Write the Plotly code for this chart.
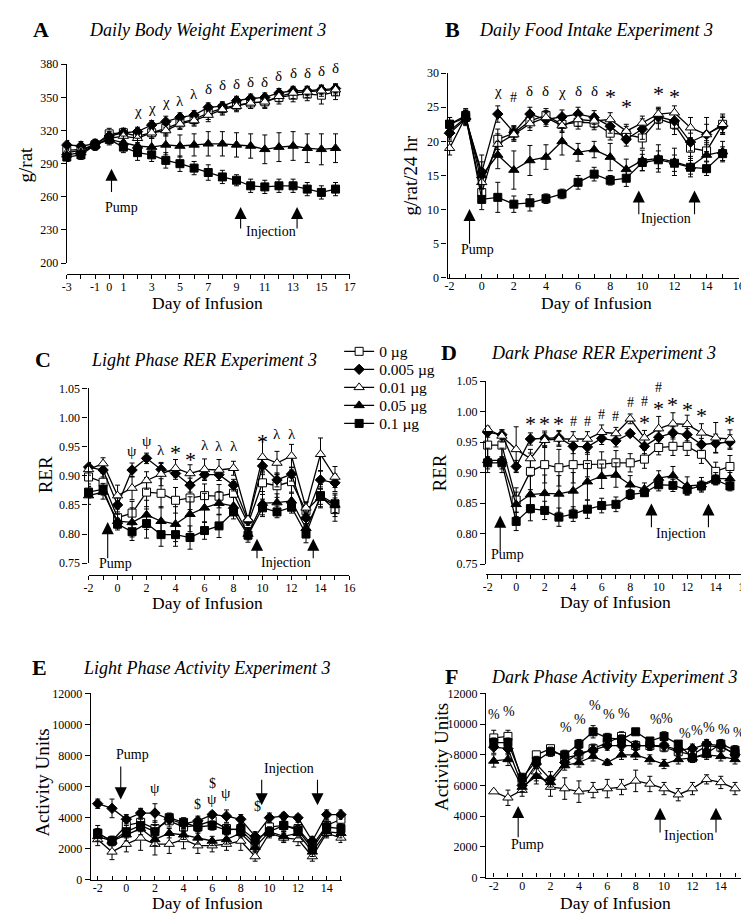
import plotly.graph_objects as go

W, H = 749, 913
SERIF = "Liberation Serif"

doses = ["0 µg", "0.005 µg", "0.01 µg", "0.05 µg", "0.1 µg"]
days_A = list(range(-3, 17))
days = list(range(-2, 16))

# ---- Panel A: Daily body weight (g/rat)
bw_0 = [302, 303, 307, 317, 318, 315, 318, 322, 327, 330, 336, 340, 343, 345, 346, 350, 352, 353, 352, 355]
bw_1 = [307, 306, 308, 315, 318, 319, 325, 328, 332, 334, 341, 342, 347, 349, 350, 354, 356, 356, 357, 358]
bw_2 = [300, 302, 307, 313, 315, 313, 318, 320, 326, 329, 334, 339, 342, 345, 346, 351, 354, 355, 356, 357]
bw_3 = [298, 300, 307, 312, 309, 306, 305, 307, 306, 307, 308, 308, 307, 306, 303, 305, 306, 304, 303, 304]
bw_4 = [296, 298, 307, 312, 305, 300, 298, 293, 290, 286, 282, 278, 275, 270, 269, 270, 270, 267, 264, 267]
bw_e0 = [5, 4, 4, 5, 4, 4, 5, 5, 5, 5, 6, 5, 5, 5, 6, 6, 6, 6, 8, 7]
bw_e1 = [4, 4, 4, 4, 4, 4, 4, 5, 4, 4, 4, 4, 4, 4, 4, 4, 4, 4, 4, 4]
bw_e2 = [4, 4, 4, 4, 4, 4, 5, 5, 5, 5, 6, 5, 5, 5, 5, 5, 5, 5, 5, 5]
bw_e3 = [6, 6, 5, 5, 6, 7, 8, 9, 10, 10, 11, 11, 11, 11, 13, 13, 13, 13, 14, 13]
bw_e4 = [4, 4, 4, 4, 5, 7, 6, 7, 7, 6, 7, 6, 5, 6, 6, 6, 6, 6, 6, 6]

# ---- Panel B: Daily food intake (g/rat/24 hr)
fi_0 = [22.5, 23.5, 12.5, 20.3, 21.2, 23.0, 23.8, 22.5, 22.8, 22.7, 21.2, 21.0, 20.5, 23.3, 22.5, 19.0, 18.6, 22.5]
fi_1 = [21.2, 23.3, 15.5, 24.0, 21.3, 24.0, 23.2, 23.6, 24.0, 23.5, 22.2, 20.3, 21.8, 23.6, 23.0, 19.9, 21.0, 22.3]
fi_2 = [19.0, 23.6, 14.0, 19.6, 21.0, 22.6, 23.5, 22.3, 23.2, 23.0, 23.2, 21.5, 22.7, 24.0, 24.2, 22.0, 21.0, 22.5]
fi_3 = [21.5, 23.5, 15.0, 18.0, 15.8, 17.2, 17.7, 20.0, 18.4, 18.8, 17.7, 15.9, 17.2, 17.5, 17.0, 16.3, 18.0, 18.5]
fi_4 = [22.5, 23.8, 11.5, 11.8, 10.8, 11.0, 11.6, 12.3, 14.0, 15.2, 14.3, 14.6, 16.9, 17.3, 16.8, 16.2, 16.0, 18.2]
fi_e0 = [1, 1, 1.5, 1.5, 1, 1, 1, 1, 1, 1, 1, 1.2, 1.5, 1.5, 1.5, 1.5, 1.5, 1.2]
fi_e1 = [1, 1, 1.5, 1.2, 1, 1, 1, 1, 1, 1, 1, 1, 1.5, 1, 1.2, 1.3, 1.5, 1.2]
fi_e2 = [1, 1, 2, 1.5, 1, 1, 1, 1, 1, 1, 1, 1, 1, 1, 1, 1.5, 2.5, 1.5]
fi_e3 = [1, 1, 3, 2, 2.8, 2.2, 1.8, 2, 1.3, 1.2, 2, 1.5, 1.5, 2, 2, 1.5, 1.8, 1.5]
fi_e4 = [1, 1, 1.5, 2.2, 1.2, 1.2, 0.7, 0.7, 1, 1, 0.7, 1.2, 1.2, 1.3, 1.2, 1, 1, 1]

# ---- Panel C: Light phase RER
lr_0 = [0.898, 0.889, 0.828, 0.836, 0.872, 0.870, 0.858, 0.862, 0.866, 0.865, 0.870, 0.818, 0.888, 0.883, 0.890, 0.840, 0.865, 0.842]
lr_1 = [0.915, 0.910, 0.850, 0.910, 0.930, 0.911, 0.904, 0.884, 0.902, 0.902, 0.884, 0.823, 0.917, 0.893, 0.903, 0.828, 0.893, 0.888]
lr_2 = [0.911, 0.921, 0.866, 0.879, 0.892, 0.903, 0.913, 0.904, 0.911, 0.910, 0.913, 0.825, 0.932, 0.922, 0.934, 0.845, 0.937, 0.898]
lr_3 = [0.866, 0.872, 0.822, 0.820, 0.833, 0.822, 0.817, 0.834, 0.845, 0.853, 0.848, 0.800, 0.853, 0.854, 0.857, 0.810, 0.862, 0.850]
lr_4 = [0.872, 0.877, 0.817, 0.804, 0.818, 0.799, 0.799, 0.794, 0.806, 0.814, 0.838, 0.798, 0.845, 0.838, 0.846, 0.800, 0.866, 0.852]
lr_e0 = [0.012, 0.015, 0.015, 0.02, 0.025, 0.025, 0.022, 0.02, 0.02, 0.02, 0.02, 0.01, 0.02, 0.02, 0.02, 0.015, 0.02, 0.02]
lr_e1 = [0.008, 0.012, 0.012, 0.012, 0.009, 0.01, 0.01, 0.012, 0.01, 0.01, 0.01, 0.008, 0.012, 0.012, 0.012, 0.01, 0.015, 0.015]
lr_e2 = [0.01, 0.01, 0.018, 0.02, 0.015, 0.02, 0.015, 0.015, 0.018, 0.018, 0.012, 0.005, 0.03, 0.02, 0.02, 0.01, 0.028, 0.018]
lr_e3 = [0.015, 0.012, 0.012, 0.025, 0.025, 0.025, 0.03, 0.03, 0.025, 0.02, 0.015, 0.01, 0.02, 0.015, 0.015, 0.015, 0.015, 0.02]
lr_e4 = [0.01, 0.01, 0.01, 0.015, 0.025, 0.02, 0.02, 0.02, 0.015, 0.02, 0.012, 0.012, 0.015, 0.01, 0.01, 0.015, 0.015, 0.015]

# ---- Panel D: Dark phase RER
dr_0 = [0.945, 0.945, 0.855, 0.902, 0.913, 0.908, 0.913, 0.913, 0.914, 0.916, 0.916, 0.922, 0.941, 0.943, 0.943, 0.930, 0.902, 0.910]
dr_1 = [0.966, 0.962, 0.910, 0.955, 0.956, 0.957, 0.943, 0.942, 0.956, 0.952, 0.964, 0.943, 0.958, 0.965, 0.962, 0.946, 0.948, 0.950]
dr_2 = [0.971, 0.960, 0.938, 0.923, 0.953, 0.955, 0.955, 0.955, 0.966, 0.964, 0.988, 0.957, 0.972, 0.980, 0.979, 0.965, 0.957, 0.955]
dr_3 = [0.920, 0.920, 0.848, 0.864, 0.866, 0.865, 0.870, 0.885, 0.894, 0.896, 0.880, 0.873, 0.891, 0.895, 0.878, 0.880, 0.890, 0.890]
dr_4 = [0.916, 0.916, 0.820, 0.841, 0.838, 0.827, 0.832, 0.840, 0.846, 0.848, 0.864, 0.867, 0.880, 0.879, 0.872, 0.878, 0.888, 0.878]
dr_e0 = [0.02, 0.02, 0.02, 0.03, 0.03, 0.03, 0.03, 0.02, 0.02, 0.02, 0.015, 0.015, 0.012, 0.015, 0.015, 0.015, 0.015, 0.018]
dr_e1 = [0.008, 0.008, 0.01, 0.01, 0.012, 0.012, 0.012, 0.012, 0.01, 0.01, 0.005, 0.012, 0.01, 0.01, 0.01, 0.01, 0.015, 0.012]
dr_e2 = [0.005, 0.01, 0.037, 0.015, 0.012, 0.012, 0.012, 0.012, 0.012, 0.01, 0.008, 0.012, 0.02, 0.018, 0.015, 0.015, 0.025, 0.015]
dr_e3 = [0.02, 0.02, 0.02, 0.03, 0.03, 0.03, 0.03, 0.03, 0.02, 0.02, 0.015, 0.01, 0.012, 0.015, 0.015, 0.012, 0.01, 0.01]
dr_e4 = [0.01, 0.01, 0.015, 0.02, 0.015, 0.015, 0.012, 0.015, 0.012, 0.012, 0.008, 0.006, 0.01, 0.01, 0.008, 0.008, 0.008, 0.008]

# ---- Panel E: Light phase activity
la_0 = [3000, 2500, 3500, 3700, 3300, 3800, 3400, 3500, 3800, 3300, 3200, 2300, 3400, 3500, 3300, 2200, 3500, 3900]
la_1 = [4900, 4600, 3900, 4300, 4300, 3900, 3600, 3800, 4200, 4100, 3900, 2800, 4000, 4100, 4000, 2500, 4200, 4200]
la_2 = [2600, 1800, 2300, 2700, 2300, 2300, 2600, 2200, 2200, 2300, 2500, 1500, 3000, 2700, 2600, 1500, 3000, 2700]
la_3 = [2800, 2500, 2900, 3300, 2600, 3000, 2900, 2700, 2500, 2600, 3000, 2100, 3100, 2800, 3000, 1800, 3100, 3000]
la_4 = [3000, 2500, 3100, 3500, 3100, 4000, 3700, 3400, 3500, 3200, 3300, 2600, 3100, 3500, 3200, 2000, 3400, 3300]
la_e0 = [500, 300, 500, 500, 500, 400, 300, 400, 400, 300, 400, 400, 400, 400, 400, 300, 300, 300]
la_e1 = [300, 600, 300, 300, 600, 300, 300, 300, 200, 400, 300, 300, 300, 200, 200, 300, 300, 300]
la_e2 = [400, 500, 500, 800, 700, 600, 600, 500, 400, 400, 600, 300, 300, 300, 400, 300, 300, 300]
la_e3 = [300, 300, 400, 400, 400, 300, 300, 400, 300, 300, 300, 300, 300, 300, 300, 300, 300, 300]
la_e4 = [300, 300, 400, 400, 400, 300, 300, 400, 300, 300, 300, 300, 300, 300, 300, 300, 300, 300]

# ---- Panel F: Dark phase activity
da_0 = [9100, 9200, 6300, 8000, 8400, 7800, 8000, 8400, 8800, 9200, 8600, 8600, 8500, 8200, 8000, 8600, 8500, 8100]
da_1 = [8500, 8400, 6000, 7400, 6400, 7500, 8100, 8300, 8600, 8600, 8600, 8600, 8600, 8300, 8400, 8700, 8600, 8000]
da_2 = [5600, 5200, 5700, 6900, 5900, 5800, 5600, 5700, 5800, 5900, 6300, 6100, 5800, 5400, 5800, 6400, 6200, 5800]
da_3 = [7600, 7700, 5900, 6600, 6200, 7300, 7500, 7900, 7500, 8000, 8000, 7700, 7400, 7700, 7800, 8000, 7900, 7700]
da_4 = [8800, 8800, 6500, 7600, 8200, 8000, 8700, 9500, 9100, 9000, 9500, 8900, 9200, 8700, 7800, 8100, 8700, 8300]
da_e0 = [500, 400, 300, 200, 200, 300, 300, 300, 300, 300, 200, 300, 300, 300, 300, 300, 300, 300]
da_e1 = [400, 400, 300, 300, 500, 300, 300, 300, 300, 300, 300, 300, 300, 300, 300, 300, 300, 300]
da_e2 = [100, 500, 400, 600, 600, 700, 700, 500, 600, 500, 700, 500, 400, 400, 400, 300, 400, 400]
da_e3 = [400, 400, 300, 500, 300, 300, 300, 300, 200, 300, 300, 300, 300, 300, 300, 300, 300, 300]
da_e4 = [300, 300, 300, 300, 300, 300, 300, 400, 300, 300, 200, 200, 300, 200, 300, 300, 300, 300]

# ---- significance symbols (day, value, symbol)
sig_A = [(2, 338, "χ"), (3, 340, "χ"), (4, 346, "χ"), (5, 347, "λ"), (6, 353, "λ"), (7, 358, "δ"),
         (8, 361.5, "δ"), (9, 362, "δ"), (10, 363.5, "δ"), (11, 363.5, "δ"), (12, 369.5, "δ"),
         (13, 372.5, "δ"), (14, 372.5, "δ"), (15, 374, "δ"), (16, 377, "δ")]
sig_B = [(1, 27.4, "χ"), (2, 26.4, "#"), (3, 27.4, "δ"), (4, 27.4, "δ"), (5, 27.2, "χ"), (6, 27.4, "δ"),
         (7, 27.4, "δ"), (8, 27.3, "*"), (9, 25.8, "*"), (11, 27.7, "*"), (12, 27.3, "*")]
sig_C = [(1, 0.942, "ψ"), (2, 0.959, "ψ"), (3, 0.945, "λ"), (4, 0.949, "*"), (5, 0.936, "*"), (6, 0.953, "λ"),
         (7, 0.951, "λ"), (8, 0.951, "λ"), (10, 0.967, "*"), (11, 0.971, "λ"), (12, 0.972, "λ")]
sig_D = [(1, 0.988, "*"), (2, 0.988, "*"), (3, 0.988, "*"), (4, 0.983, "#"), (5, 0.983, "#"), (6, 0.995, "#"),
         (7, 0.992, "#"), (8, 1.015, "#"), (9, 1.016, "#"), (9, 0.991, "*"), (10, 1.039, "#"), (10, 1.013, "*"),
         (11, 1.020, "*"), (12, 1.012, "*"), (13, 1.002, "*"), (15, 0.991, "*")]
sig_E = [(2, 5900, "ψ"), (5, 4850, "$"), (6, 6180, "$"), (6, 5200, "ψ"), (7, 5600, "ψ"), (9.2, 4750, "$")]
sig_F = [(-2, 10650, "%"), (-0.95, 10800, "%"), (3.1, 9800, "%"), (4.05, 10330, "%"), (5.1, 11190, "%"),
         (6.1, 10650, "%"), (7.2, 10700, "%"), (9.4, 10290, "%"), (10.2, 10370, "%"), (11.5, 9410, "%"),
         (12.3, 9580, "%"), (13.2, 9800, "%"), (14.2, 9630, "%"), (15.3, 9430, "%")]

# ---- event arrows (x, tip value, tail value), labels (x, value, text)
arr_A = [(0.16, 285.5, 263), (9.29, 250.8, 230), (13.28, 250.8, 230)]
lab_A = [(0.86, 250.8, "Pump"), (11.43, 228.5, "Injection")]
arr_B = [(-0.76, 10.1, 4.8), (9.78, 12.8, 9.1), (13.25, 12.8, 9.1)]
lab_B = [(-0.25, 4.2, "Pump"), (11.5, 8.7, "Injection")]
arr_C = [(-0.68, 0.8206, 0.7557), (9.62, 0.792, 0.7557), (13.5, 0.792, 0.7557)]
lab_C = [(-0.11, 0.750, "Pump"), (11.64, 0.751, "Injection")]
arr_D = [(-1.12, 0.8296, 0.7677), (9.49, 0.8495, 0.808), (13.49, 0.8495, 0.808)]
lab_D = [(-0.58, 0.765, "Pump"), (11.58, 0.801, "Injection")]
arr_E = [(-0.39, 5174, 7392), (9.46, 4794, 6547), (13.36, 4794, 6547)]
lab_E = [(0.46, 8089, "Pump"), (11.4, 7138, "Injection")]
arr_F = [(-0.28, 4663, 2524), (9.72, 4556, 2845), (13.66, 4556, 2845)]
lab_F = [(0.35, 2139, "Pump"), (11.76, 2738, "Injection")]


def fx(px):
    return px / W


def fy(py):
    return 1 - py / H


styles = [
    dict(symbol="square", color="white", size=8),
    dict(symbol="diamond", color="black", size=8),
    dict(symbol="triangle-up", color="white", size=9),
    dict(symbol="triangle-up", color="black", size=9),
    dict(symbol="square", color="black", size=8),
]
legend_rows = [342, 360.3, 378.6, 396.9, 415.2]

panels = [
    dict(key="A", x=days_A, ys=[bw_0, bw_1, bw_2, bw_3, bw_4], es=[bw_e0, bw_e1, bw_e2, bw_e3, bw_e4],
         xd=(54.6, 341.7), xr=(-3, 17), yd=(50, 252), yr=(200, 380), xline=263, xticks="outside",
         ytv=[200, 230, 260, 290, 320, 350, 380], ytt=None,
         xminor=list(range(-3, 18)), xlab=[-3, -1, 0, 1, 3, 5, 7, 9, 11, 13, 15, 17],
         sig=sig_A, arr=arr_A, lab=lab_A, title="Daily Body Weight Experiment 3",
         letter=(28, 15), tpos=(197.5, 15), ylabel="g/rat", ylpos=(13, 152), xlpos=(197, 292)),
    dict(key="B", x=days, ys=[fi_0, fi_1, fi_2, fi_3, fi_4], es=[fi_e0, fi_e1, fi_e2, fi_e3, fi_e4],
         xd=(441, 736.5), xr=(-2.13, 16), yd=(59, 267), yr=(0, 30), xline=None, xticks="inside",
         ytv=[0, 5, 10, 15, 20, 25, 30], ytt=None,
         xminor=list(range(-2, 17)), xlab=list(range(-2, 17, 2)),
         sig=sig_B, arr=arr_B, lab=lab_B, title="Daily Food Intake Experiment 3",
         letter=(446, 15), tpos=(592, 15), ylabel="g/rat/24 hr", ylpos=(403, 163), xlpos=(592, 292)),
    dict(key="C", x=days, ys=[lr_0, lr_1, lr_2, lr_3, lr_4], es=[lr_e0, lr_e1, lr_e2, lr_e3, lr_e4],
         xd=(76.7, 341.5), xr=(-2, 16), yd=(379.3, 556.7), yr=(0.75, 1.05), xline=569, xticks="outside",
         ytv=[0.75, 0.80, 0.85, 0.90, 0.95, 1.00, 1.05], ytt=["0.75", "0.80", "0.85", "0.90", "0.95", "1.00", "1.05"],
         xminor=list(range(-2, 17)), xlab=list(range(-2, 17, 2)),
         sig=sig_C, arr=arr_C, lab=lab_C, title="Light Phase RER Experiment 3",
         letter=(30, 350), tpos=(194, 350), ylabel="RER", ylpos=(33, 467), xlpos=(197, 597)),
    dict(key="D", x=days, ys=[dr_0, dr_1, dr_2, dr_3, dr_4], es=[dr_e0, dr_e1, dr_e2, dr_e3, dr_e4],
         xd=(480, 745), xr=(-2.12, 16.2), yd=(371.7, 557.7), yr=(0.75, 1.05), xline=568, xticks="outside",
         ytv=[0.75, 0.80, 0.85, 0.90, 0.95, 1.00, 1.05], ytt=["0.75", "0.80", "0.85", "0.90", "0.95", "1.00", "1.05"],
         xminor=list(range(-2, 17)), xlab=list(range(-2, 17, 2)),
         sig=sig_D, arr=arr_D, lab=lab_D, title="Dark Phase RER Experiment 3",
         letter=(443, 343), tpos=(599, 343), ylabel="RER", ylpos=(433, 465), xlpos=(611, 596)),
    dict(key="E", x=days, ys=[la_0, la_1, la_2, la_3, la_4], es=[la_e0, la_e1, la_e2, la_e3, la_e4],
         xd=(79, 334.3), xr=(-2.48, 15.1), yd=(689, 878.3), yr=(0, 12000), xline=None, xticks="inside",
         ytv=[0, 2000, 4000, 6000, 8000, 10000, 12000], ytt=["0", "2000", "4000", "6000", "8000", "10000", "12000"],
         xminor=list(range(-2, 16)), xlab=list(range(-2, 15, 2)),
         sig=sig_E, arr=arr_E, lab=lab_E, title="Light Phase Activity Experiment 3",
         letter=(27, 663), tpos=(197, 663), ylabel="Activity Units", ylpos=(29, 780), xlpos=(197, 901.5)),
    dict(key="F", x=days, ys=[da_0, da_1, da_2, da_3, da_4], es=[da_e0, da_e1, da_e2, da_e3, da_e4],
         xd=(480, 743.3), xr=(-2.55, 15.73), yd=(689, 876), yr=(0, 12000), xline=None, xticks="inside",
         ytv=[0, 2000, 4000, 6000, 8000, 10000, 12000], ytt=["0", "2000", "4000", "6000", "8000", "10000", "12000"],
         xminor=list(range(-2, 16)), xlab=list(range(-2, 15, 2)),
         sig=sig_F, arr=arr_F, lab=lab_F, title="Dark Phase Activity Experiment 3",
         letter=(445, 672), tpos=(610, 672), ylabel="Activity Units", ylpos=(435, 754), xlpos=(611, 901.5)),
]

fig = go.Figure()
annotations = []
tickfont = dict(family=SERIF, size=12, color="black")
layout_extra = {}

for i, p in enumerate(panels):
    n = i + 1
    xa = "x" if n == 1 else f"x{n}"
    ya = "y" if n == 1 else f"y{n}"
    for s, (yv, ev) in enumerate(zip(p["ys"], p["es"])):
        st = styles[s]
        lg = "legend" if s == 0 else f"legend{s + 1}"
        fig.add_trace(go.Scatter(
            x=p["x"], y=yv, xaxis=xa, yaxis=ya, mode="lines+markers", name=doses[s],
            showlegend=(p["key"] == "C"), legend=lg, cliponaxis=False,
            line=dict(color="black", width=1.3),
            marker=dict(symbol=st["symbol"], size=st["size"], color=st["color"],
                        line=dict(color="black", width=1)),
            error_y=dict(type="data", array=ev, visible=True, color="black", thickness=1, width=2.5),
        ))
    xaxis = dict(domain=[fx(p["xd"][0]), fx(p["xd"][1])], range=list(p["xr"]),
                 showgrid=False, zeroline=False, showline=True, linecolor="black", linewidth=1.3,
                 ticks=p["xticks"], ticklen=4, tickwidth=1.2, tickcolor="black",
                 tickmode="array", tickvals=p["xlab"], ticktext=[str(v) for v in p["xlab"]],
                 minor=dict(tickmode="array", tickvals=p["xminor"], ticks=p["xticks"], ticklen=4,
                            tickwidth=1.2, tickcolor="black", showgrid=False),
                 tickfont=tickfont, fixedrange=True, ticklabeloverflow="allow",
                 ticklabelstandoff=-3)
    yaxis = dict(domain=[fy(p["yd"][1]), fy(p["yd"][0])], range=list(p["yr"]),
                 showgrid=False, zeroline=False, showline=True, linecolor="black", linewidth=1.3,
                 ticks="outside", ticklen=5, tickwidth=1.2, tickcolor="black",
                 tickvals=p["ytv"], ticktext=p["ytt"] if p["ytt"] else [str(v) for v in p["ytv"]],
                 tickfont=tickfont, anchor=xa, fixedrange=True, ticklabeloverflow="allow")
    if p["xline"] is not None:
        xaxis.update(anchor="free", position=fy(p["xline"]))
    else:
        xaxis.update(anchor=ya)
    layout_extra["xaxis" if n == 1 else f"xaxis{n}"] = xaxis
    layout_extra["yaxis" if n == 1 else f"yaxis{n}"] = yaxis

    # panel letter & title
    annotations.append(dict(xref="paper", yref="paper", x=fx(p["letter"][0]), y=fy(p["letter"][1]),
                            text=f"<b>{p['key']}</b>", showarrow=False, xanchor="center", yanchor="middle",
                            font=dict(family=SERIF, size=22, color="black")))
    annotations.append(dict(xref="paper", yref="paper", x=fx(p["tpos"][0]), y=fy(p["tpos"][1]),
                            text=f"<i>{p['title']}</i>", showarrow=False, xanchor="center", yanchor="middle",
                            font=dict(family=SERIF, size=18, color="black")))
    # axis titles
    annotations.append(dict(xref="paper", yref="paper", x=fx(p["ylpos"][0]), y=fy(p["ylpos"][1]),
                            text=p["ylabel"], textangle=-90, showarrow=False, xanchor="center", yanchor="middle",
                            font=dict(family=SERIF, size=19, color="black")))
    annotations.append(dict(xref="paper", yref="paper", x=fx(p["xlpos"][0]), y=fy(p["xlpos"][1]),
                            text="Day of Infusion", showarrow=False, xanchor="center", yanchor="middle",
                            font=dict(family=SERIF, size=17.5, color="black")))
    # significance symbols
    for (d, v, t) in p["sig"]:
        size = 22 if t == "*" else (14 if t in "#%$" else 15)
        yshift = -5 if t == "*" else 0
        annotations.append(dict(xref=xa, yref=ya, x=d, y=v, text=t, showarrow=False,
                                xanchor="center", yanchor="middle", yshift=yshift,
                                font=dict(family=SERIF, size=size, color="black")))
    # arrows
    for (d, tip, tail) in p["arr"]:
        annotations.append(dict(xref=xa, yref=ya, x=d, y=tip, ax=d, ay=tail, axref=xa, ayref=ya,
                                text="", showarrow=True, arrowhead=2, arrowsize=2.2, arrowwidth=1.1,
                                arrowcolor="black", standoff=0, startstandoff=0))
    for (d, v, t) in p["lab"]:
        annotations.append(dict(xref=xa, yref=ya, x=d, y=v, text=t, showarrow=False,
                                xanchor="center", yanchor="middle",
                                font=dict(family=SERIF, size=14, color="black")))

for s, row in enumerate(legend_rows):
    key = "legend" if s == 0 else f"legend{s + 1}"
    layout_extra[key] = dict(x=fx(331), y=fy(row), xanchor="left", yanchor="middle",
                             font=dict(family=SERIF, size=15.5, color="black"),
                             bgcolor="rgba(0,0,0,0)", borderwidth=0, itemwidth=30)

fig.update_layout(
    width=W, height=H, margin=dict(l=0, r=0, t=0, b=0),
    paper_bgcolor="white", plot_bgcolor="white",
    annotations=annotations,
    **layout_extra,
)

fig.write_html("out.html")
